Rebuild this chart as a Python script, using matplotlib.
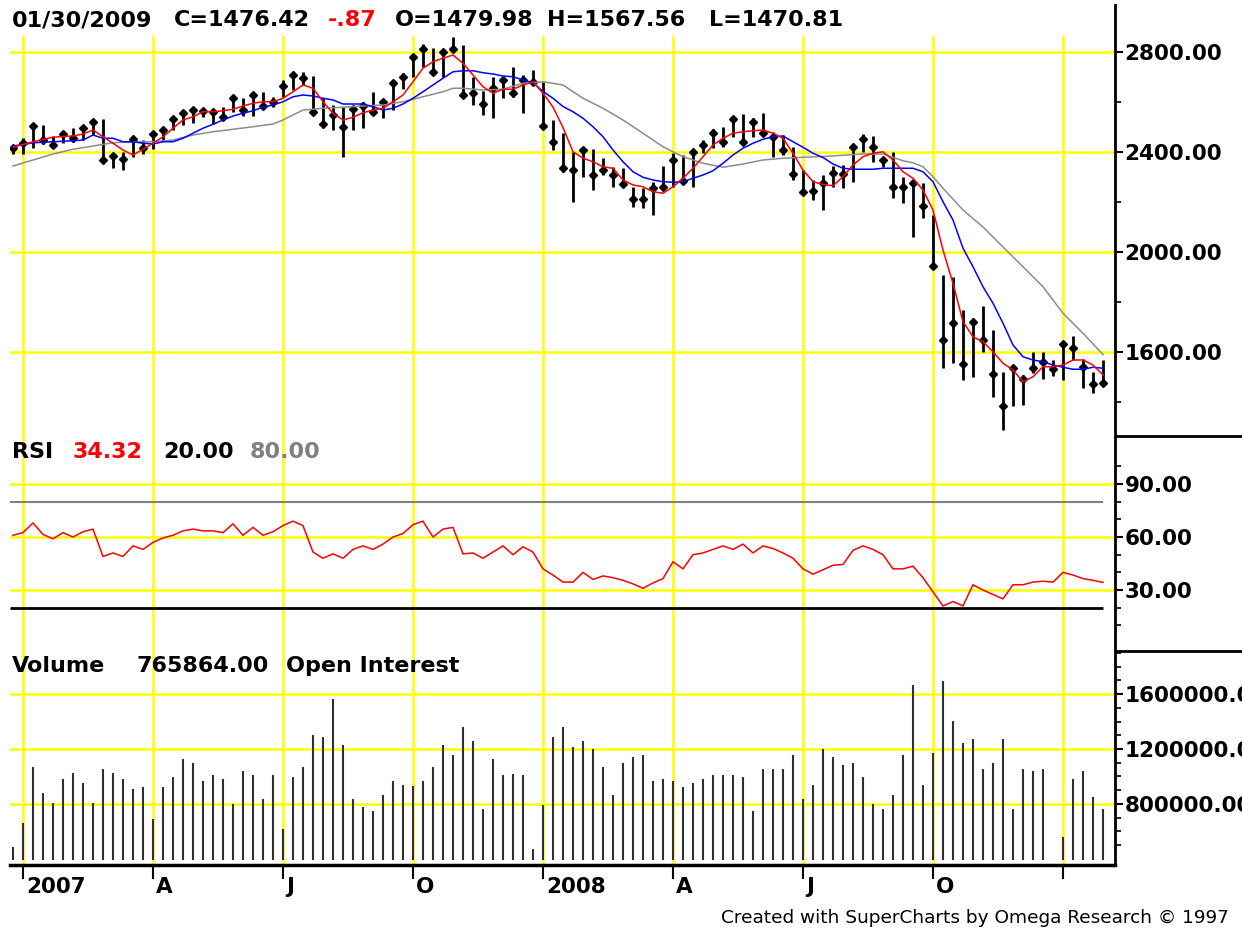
import matplotlib
matplotlib.use("Agg")
import matplotlib.pyplot as plt
import numpy as np

plt.rcParams['font.family'] = ['DejaVu Sans']
plt.rcParams['font.weight'] = 'bold'

W, H = 1242, 931

# weekly bars: index 0 = last week of 2006, index 109 = 01/30/2009
high = [2428, 2455, 2512, 2508, 2464, 2481, 2495, 2508, 2531, 2531,
        2395, 2401, 2459, 2448, 2481, 2499, 2539, 2561, 2579, 2571,
        2571, 2581, 2624, 2615, 2635, 2641, 2621, 2688, 2717, 2721,
        2704, 2615, 2588, 2581, 2575, 2601, 2641, 2605, 2681, 2715,
        2788, 2832, 2815, 2811, 2861, 2828, 2699, 2645, 2701, 2701,
        2739, 2708, 2728, 2681, 2528, 2475, 2401, 2415, 2411, 2375,
        2341, 2335, 2261, 2255, 2281, 2344, 2395, 2388, 2408, 2448,
        2491, 2499, 2541, 2552, 2535, 2555, 2481, 2468, 2421, 2328,
        2288, 2310, 2345, 2348, 2428, 2472, 2464, 2381, 2401, 2301,
        2281, 2275, 2148, 1908, 1901, 1768, 1735, 1784, 1688, 1521,
        1544, 1508, 1601, 1601, 1568, 1641, 1664, 1571, 1521, 1567.56]
low = [2392, 2392, 2415, 2432, 2415, 2435, 2441, 2448, 2468, 2365,
       2335, 2328, 2381, 2392, 2411, 2448, 2488, 2508, 2517, 2539,
       2512, 2528, 2561, 2544, 2544, 2575, 2581, 2621, 2648, 2668,
       2555, 2508, 2488, 2381, 2488, 2495, 2548, 2535, 2568, 2651,
       2701, 2741, 2717, 2701, 2801, 2621, 2588, 2548, 2535, 2615,
       2621, 2555, 2675, 2501, 2408, 2321, 2201, 2301, 2248, 2308,
       2261, 2268, 2181, 2175, 2148, 2248, 2261, 2275, 2261, 2395,
       2415, 2421, 2461, 2432, 2461, 2468, 2381, 2388, 2288, 2228,
       2208, 2168, 2260, 2255, 2281, 2401, 2361, 2341, 2215, 2195,
       2061, 2135, 1941, 1535, 1555, 1488, 1501, 1601, 1421, 1288,
       1384, 1388, 1517, 1491, 1504, 1488, 1568, 1455, 1435, 1470.81]
close = [2415, 2435, 2504, 2448, 2428, 2472, 2455, 2495, 2521, 2368,
         2384, 2371, 2451, 2415, 2472, 2488, 2531, 2555, 2568, 2563,
         2561, 2539, 2615, 2568, 2628, 2584, 2601, 2664, 2708, 2695,
         2561, 2512, 2548, 2501, 2571, 2584, 2561, 2601, 2675, 2701,
         2779, 2811, 2721, 2801, 2811, 2628, 2637, 2592, 2655, 2688,
         2635, 2688, 2681, 2504, 2441, 2335, 2328, 2408, 2308, 2328,
         2308, 2272, 2211, 2211, 2255, 2259, 2368, 2285, 2401, 2428,
         2475, 2441, 2531, 2441, 2521, 2477, 2461, 2408, 2312, 2241,
         2245, 2275, 2318, 2312, 2419, 2451, 2419, 2368, 2259, 2259,
         2275, 2184, 1944, 1648, 1715, 1552, 1721, 1648, 1512, 1384,
         1535, 1491, 1535, 1561, 1531, 1632, 1615, 1541, 1472, 1476.42]

# moving averages
ma_red = [2419, 2430, 2441, 2450, 2459, 2462, 2464, 2472, 2488, 2461,
          2435, 2408, 2388, 2411, 2435, 2461, 2495, 2528, 2541, 2561,
          2561, 2565, 2571, 2584, 2595, 2601, 2601, 2615, 2641, 2668,
          2655, 2601, 2555, 2528, 2539, 2557, 2568, 2575, 2601, 2628,
          2681, 2735, 2761, 2775, 2788, 2755, 2708, 2661, 2635, 2651,
          2651, 2668, 2681, 2635, 2580, 2498, 2401, 2375, 2361, 2341,
          2335, 2288, 2268, 2261, 2241, 2235, 2261, 2295, 2335, 2381,
          2428, 2455, 2475, 2481, 2485, 2488, 2475, 2455, 2395, 2328,
          2281, 2270, 2265, 2301, 2348, 2381, 2395, 2401, 2368, 2321,
          2295, 2248, 2168, 2008, 1875, 1721, 1661, 1641, 1601, 1555,
          1528, 1481, 1501, 1541, 1541, 1548, 1568, 1568, 1548, 1508]
ma_blue = [2424, 2430, 2437, 2439, 2441, 2443, 2445, 2448, 2468, 2455,
           2455, 2441, 2441, 2435, 2432, 2441, 2441, 2455, 2475, 2495,
           2511, 2528, 2544, 2555, 2565, 2579, 2588, 2601, 2621, 2628,
           2624, 2615, 2608, 2592, 2592, 2592, 2581, 2568, 2575, 2592,
           2615, 2641, 2668, 2695, 2721, 2725, 2725, 2717, 2712, 2704,
           2701, 2688, 2677, 2642, 2615, 2582, 2561, 2535, 2501, 2461,
           2408, 2361, 2321, 2299, 2288, 2281, 2279, 2281, 2295, 2308,
           2325, 2355, 2388, 2415, 2435, 2451, 2461, 2464, 2441, 2419,
           2395, 2378, 2352, 2335, 2331, 2331, 2331, 2335, 2335, 2335,
           2335, 2321, 2281, 2201, 2128, 2015, 1941, 1861, 1795, 1715,
           1628, 1581, 1568, 1561, 1548, 1539, 1531, 1531, 1539, 1535]
gray_idx = [0, 2, 4, 6, 8, 10, 12, 14, 16, 18, 20, 22, 24, 26, 27, 29, 31, 33,
            35, 37, 39, 41, 43, 44, 45, 47, 49, 51, 53, 55, 57, 59, 61, 63, 65,
            67, 69, 71, 73, 75, 77, 79, 81, 83, 85, 87, 89, 90, 91, 92, 93, 95,
            97, 99, 101, 103, 105, 107, 109]
ma_gray = [2344, 2368, 2392, 2411, 2424, 2437, 2441, 2441, 2448, 2468, 2481,
           2491, 2501, 2512, 2528, 2568, 2575, 2579, 2584, 2588, 2601, 2621,
           2641, 2655, 2655, 2648, 2651, 2675, 2681, 2668, 2615, 2575, 2528,
           2475, 2421, 2381, 2355, 2339, 2352, 2368, 2375, 2379, 2382, 2387,
           2392, 2392, 2365, 2357, 2341, 2301, 2255, 2168, 2100, 2020, 1941,
           1861, 1755, 1675, 1590]

rsi = [61, 62.5, 68, 61.5, 59, 62.5, 60, 63, 64.5, 49,
       51, 49, 55, 53, 57, 59.5, 61, 63.5, 64.5, 63.5,
       63.5, 62.5, 67.5, 61, 65.5, 61, 63, 66.5, 69, 66.5,
       51.5, 48, 50.5, 48, 53, 55, 53, 56, 60, 62,
       67, 69, 60, 64.5, 65.5, 50.5, 51, 48, 51.5, 55,
       50, 54.5, 51.5, 42, 38.5, 34.5, 34.5, 40, 36, 38,
       37, 35.5, 33.5, 31, 34, 36.5, 46, 42, 50, 51,
       53, 55, 53, 56, 51, 55, 53.5, 51, 48, 42,
       39, 41.5, 44, 44.5, 52.5, 55, 53, 50, 42, 42,
       43.5, 37, 29, 21, 23.5, 21, 33, 30, 27.5, 25,
       33, 33, 34.5, 35, 34.5, 40, 38.5, 36.5, 35.5, 34.32]

nan = np.nan
volume = [487000, 664000, 1071000, 882000, 810000, 984000, 1028000, 955000, 810000, 1057000,
          1028000, 984000, 911000, 926000, 693000, 926000, 999000, 1130000, 1100000, 967000,
          1011000, 984000, 798000, 1040000, 1011000, 839000, 1013000, 621000, 999000, 1071000,
          1304000, 1290000, 1566000, 1231000, 834000, 781000, 749000, 868000, 967000, 941000,
          931000, 967000, 1071000, 1231000, 1159000, 1362000, 1261000, 766000, 1130000, 1013000,
          1020000, 1013000, 475000, 795000, 1290000, 1362000, 1217000, 1261000, 1202000, 1071000,
          868000, 1100000, 1144000, 1159000, 970000, 984000, 970000, 926000, 955000, 984000,
          1013000, 1013000, 1013000, 999000, 752000, 1057000, 1057000, 1057000, 1159000, 839000,
          941000, 1202000, 1144000, 1086000, 1100000, 999000, 798000, 766000, 868000, 1159000,
          1668000, 941000, 1173000, 1697000, 1406000, 1246000, 1275000, 1057000, 1100000, 1275000,
          766000, 1057000, 1042000, 1057000, nan, 562000, 984000, 1042000, 853000, 765864]

quarter_idx = [1, 14, 27, 40, 53, 66, 79, 92, 105]
quarter_lbl = ['2007', 'A', 'J', 'O', '2008', 'A', 'J', 'O', '']

x = np.arange(len(close))
YELLOW = '#ffff00'

fig = plt.figure(figsize=(W / 100, H / 100), dpi=100)
left, right = 10 / W, 1115 / W


def add_panel(top, bottom, separator=True):
    ax = fig.add_axes([left, 1 - bottom / H, right - left, (bottom - top) / H])
    ax.set_facecolor('white')
    for s in ['top', 'left', 'bottom']:
        ax.spines[s].set_visible(False)
    ax.spines['right'].set_linewidth(2)
    ax.yaxis.tick_right()
    ax.tick_params(axis='y', which='major', direction='out', length=6, width=1.5,
                   labelsize=15.5, pad=1)
    ax.tick_params(axis='y', which='minor', direction='out', length=4, width=1.2)
    ax.tick_params(axis='x', bottom=False, labelbottom=False)
    ax.set_xlim(-0.3, 110.2)
    if separator:
        # black separator running from the right axis to the figure edge
        ax.plot([1, 1.2], [0, 0], transform=ax.transAxes, color='black', lw=2,
                clip_on=False)
    return ax


ax_p = add_panel(5, 436)
ax_r = add_panel(436, 651)
ax_v = add_panel(651, 865, separator=False)

# ---- price panel
ax_p.set_ylim(1264, 2988)
for yv in [1600, 2000, 2400, 2800]:
    ax_p.axhline(yv, color=YELLOW, lw=1.8, zorder=0)
for q in quarter_idx:
    ax_p.axvline(q, ymax=0.926, color=YELLOW, lw=1.8, zorder=0)
ax_p.set_yticks([1600, 2000, 2400, 2800])
ax_p.set_yticks([1400, 1800, 2200, 2600], minor=True)
ax_p.yaxis.set_major_formatter('{x:.2f}')

ax_p.vlines(x, low, high, color='black', lw=2, zorder=3)
ax_p.plot(x, close, 'D', color='black', ms=4.5, zorder=4)
ax_p.plot(gray_idx, ma_gray, color='#8c8c8c', lw=1.1, zorder=5)
ax_p.plot(x, ma_blue, color='#0000ff', lw=1.1, zorder=5)
ax_p.plot(x, ma_red, color='#ff0000', lw=1.1, zorder=6)

# ---- RSI panel
ax_r.set_ylim(-4.5, 117.2)
for yv in [30, 60, 90]:
    ax_r.axhline(yv, color=YELLOW, lw=1.8, zorder=0)
for q in quarter_idx:
    ax_r.axvline(q, color=YELLOW, lw=1.8, zorder=0)
ax_r.set_yticks([30, 60, 90])
ax_r.set_yticks([10, 20, 40, 50, 70, 80, 100], minor=True)
ax_r.yaxis.set_major_formatter('{x:.2f}')
ax_r.hlines(80, -0.3, x[-1], color='#808080', lw=1.5, zorder=1)
ax_r.hlines(20, -0.3, x[-1], color='black', lw=2, zorder=1)
ax_r.plot(x, rsi, color='#ff0000', lw=1.1, zorder=3)

# ---- volume panel
vol_base = 390000
ax_v.set_ylim(356000, 1913000)
for yv in [800000, 1200000, 1600000]:
    ax_v.axhline(yv, color=YELLOW, lw=1.8, zorder=0)
for q in quarter_idx:
    ax_v.axvline(q, color=YELLOW, lw=1.8, zorder=0)
ax_v.set_yticks([800000, 1200000, 1600000])
ax_v.set_yticks(np.arange(500000, 1900001, 100000), minor=True)
ax_v.yaxis.set_major_formatter('{x:.2f}')
ax_v.vlines(x, vol_base, volume, color='#303030', lw=1.5, zorder=2)

ax_v.spines['bottom'].set_visible(True)
ax_v.spines['bottom'].set_linewidth(2.5)
ax_v.set_xticks(quarter_idx)
ax_v.tick_params(axis='x', bottom=True, labelbottom=False, direction='out',
                 length=10, width=1.5, color='black')
for q, lbl in zip(quarter_idx, quarter_lbl):
    ax_v.annotate(lbl, xy=(q, 0), xycoords=('data', 'axes fraction'),
                  xytext=(3, -12), textcoords='offset pixels',
                  ha='left', va='top', fontsize=15.5, fontweight='bold')


# ---- header texts
def ftext(px, py, s, color='black', size=16, weight='bold'):
    fig.text(px / W, 1 - py / H, s, color=color, fontsize=size, fontweight=weight,
             ha='left', va='center')


ftext(12, 20, '01/30/2009')
ftext(174, 20, 'C=1476.42')
ftext(328, 20, '-.87', color='#ff0000')
ftext(395, 20, 'O=1479.98')
ftext(547, 20, 'H=1567.56')
ftext(709, 20, 'L=1470.81')

ftext(12, 452, 'RSI')
ftext(73, 452, '34.32', color='#ff0000')
ftext(163, 452, '20.00')
ftext(250, 452, '80.00', color='#808080')

ftext(12, 666, 'Volume')
ftext(136, 666, '765864.00')
ftext(286, 666, 'Open Interest')

ftext(721, 918, 'Created with SuperCharts by Omega Research \u00a9 1997',
      size=13.3, weight='normal')

fig.savefig('out.png', dpi=100, facecolor='white')
